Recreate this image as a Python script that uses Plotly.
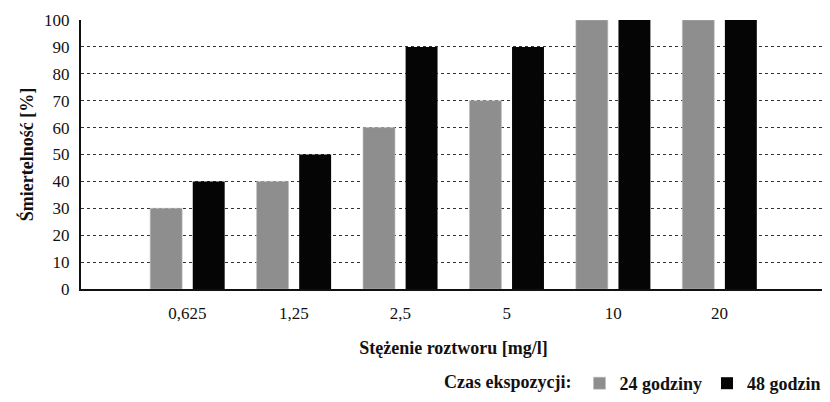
import plotly.graph_objects as go

categories = ["0,625", "1,25", "2,5", "5", "10", "20"]
series_24h = [30, 40, 60, 70, 100, 100]
series_48h = [40, 50, 90, 90, 100, 100]
y_ticks = [0, 10, 20, 30, 40, 50, 60, 70, 80, 90, 100]
grid_ticks = [10, 20, 30, 40, 50, 60, 70, 80, 90]

FONT = "Liberation Serif"
INK = "#111111"

fig = go.Figure()
fig.add_trace(go.Bar(
    x=categories, y=series_24h, name="<b>24 godziny</b>",
    marker=dict(color="#8e8e8e", line=dict(color="#bdbdbd", width=0.6)),
    width=0.3, offset=-0.35,
))
fig.add_trace(go.Bar(
    x=categories, y=series_48h, name="<b>48 godzin</b>",
    marker=dict(color="#050505", line=dict(width=0)),
    width=0.3, offset=0.05,
))
# invisible trace to attach the grid-only axis
fig.add_trace(go.Scatter(x=categories, y=series_24h, yaxis="y2",
                         mode="markers", marker=dict(opacity=0),
                         showlegend=False, hoverinfo="skip"))

# page body has an 8px margin, so the figure is sized to fit the 830x402 window
fig.update_layout(
    width=822, height=394,
    margin=dict(l=73, r=4, t=12, b=113, autoexpand=False),
    paper_bgcolor="white", plot_bgcolor="white",
    barmode="overlay",
    font=dict(family=FONT, color=INK, size=17),
    showlegend=True,
    legend=dict(
        orientation="h", x=1.0, xanchor="right",
        yref="container", y=0.0, yanchor="bottom",
        title=dict(text="<b>Czas ekspozycji:</b>", side="left",
                   font=dict(family=FONT, size=18, color=INK)),
        font=dict(family=FONT, size=18, color=INK),
        traceorder="normal",
    ),
    xaxis=dict(
        type="category", range=[-1, 6],
        showline=True, linecolor=INK, linewidth=2,
        showgrid=False, ticks="outside", ticklen=8, tickcolor="rgba(0,0,0,0)",
        tickfont=dict(family=FONT, size=17, color=INK),
        title=dict(text="<b>Stężenie roztworu [mg/l]</b>", standoff=19,
                   font=dict(family=FONT, size=18, color=INK)),
    ),
    yaxis=dict(
        range=[0, 100], tickvals=y_ticks,
        showline=True, linecolor=INK, linewidth=2,
        showgrid=False,
        ticks="outside", ticklen=6, tickcolor="rgba(0,0,0,0)",
        tickfont=dict(family=FONT, size=17, color=INK),
        zeroline=False,
        title=dict(text="<b>Śmiertelność [%]</b>", standoff=6,
                   font=dict(family=FONT, size=18, color=INK)),
    ),
    yaxis2=dict(
        range=[0, 100], tickvals=grid_ticks, overlaying="y", side="left",
        showgrid=True, gridcolor="#333333", griddash="dot", gridwidth=1,
        showticklabels=False, showline=False, zeroline=False, ticks="",
    ),
)

fig.write_html("out.html")
